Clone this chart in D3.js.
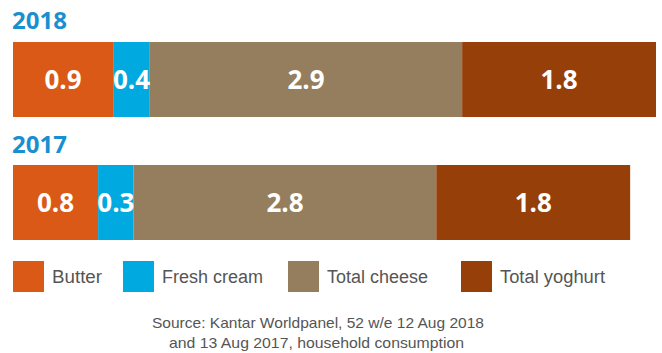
<!DOCTYPE html>
<html><head><meta charset="utf-8">
<script src="https://cdn.jsdelivr.net/npm/d3@7"></script>
<style>html,body{margin:0;padding:0;background:#fff;}svg{display:block;}</style>
</head><body>
<script>
const categories = ["Butter", "Fresh cream", "Total cheese", "Total yoghurt"];
const colors = ["#DA5916", "#00A9E0", "#957E5E", "#963F08"];
const years = ["2018", "2017"];
const values2018 = [0.93, 0.34, 2.90, 1.80];
const values2017 = [0.79, 0.33, 2.81, 1.80];
const labels2018 = ["0.9", "0.4", "2.9", "1.8"];
const labels2017 = ["0.8", "0.3", "2.8", "1.8"];
const sourceLines = ["Source: Kantar Worldpanel, 52 w/e 12 Aug 2018", "and 13 Aug 2017, household consumption"];

const W = 662, H = 353;
const svg = d3.select("body").append("svg").attr("width", W).attr("height", H);
const x = d3.scaleLinear().domain([0, 5.97]).range([13, 656]);
const rows = [
  {year: years[0], values: values2018, labels: labels2018, titleY: 29, barY: 42},
  {year: years[1], values: values2017, labels: labels2017, titleY: 153, barY: 165}
];
const barH = 75;
rows.forEach(r => {
  svg.append("text").attr("x", 12).attr("y", r.titleY).text(r.year)
    .attr("font-family", "Open Sans").attr("font-weight", 700).attr("font-size", 24).attr("fill", "#1A8FD0");
  let cum = 0;
  const segs = r.values.map((v, i) => { const s = {i, v, x0: cum, x1: cum + v, label: r.labels[i]}; cum += v; return s; });
  const g = svg.append("g");
  g.selectAll("rect").data(segs).join("rect")
    .attr("x", d => x(d.x0)).attr("width", d => x(d.x1) - x(d.x0))
    .attr("y", r.barY).attr("height", barH).attr("fill", d => colors[d.i]);
  g.selectAll("text").data(segs).join("text")
    .attr("x", d => (x(d.x0) + x(d.x1)) / 2).attr("y", r.barY + barH / 2 + 9)
    .attr("text-anchor", "middle").text(d => d.label)
    .attr("font-family", "Open Sans").attr("font-weight", 700).attr("font-size", 26).attr("fill", "#fff");
});

// legend
const legX = [13, 123, 288, 461];
const legW = [50, 101, 101, 105];
const lg = svg.append("g");
categories.forEach((c, i) => {
  lg.append("rect").attr("x", legX[i]).attr("y", 261).attr("width", 31).attr("height", 31).attr("fill", colors[i]);
  lg.append("text").attr("x", legX[i] + 39).attr("y", 283).text(c)
    .attr("font-family", "Liberation Sans, Arial").attr("font-size", 18).attr("fill", "#555")
    .attr("textLength", legW[i]).attr("lengthAdjust", "spacingAndGlyphs");
});

// source
const srcW = [332, 295];
const srcC = [318, 316.5];
sourceLines.forEach((s, i) => {
  svg.append("text").attr("x", srcC[i] - srcW[i] / 2).attr("y", 328 + i * 20).text(s)
    .attr("font-family", "Liberation Sans, Arial").attr("font-size", 15).attr("fill", "#555")
    .attr("textLength", srcW[i]).attr("lengthAdjust", "spacingAndGlyphs");
});
</script>
</body></html>
